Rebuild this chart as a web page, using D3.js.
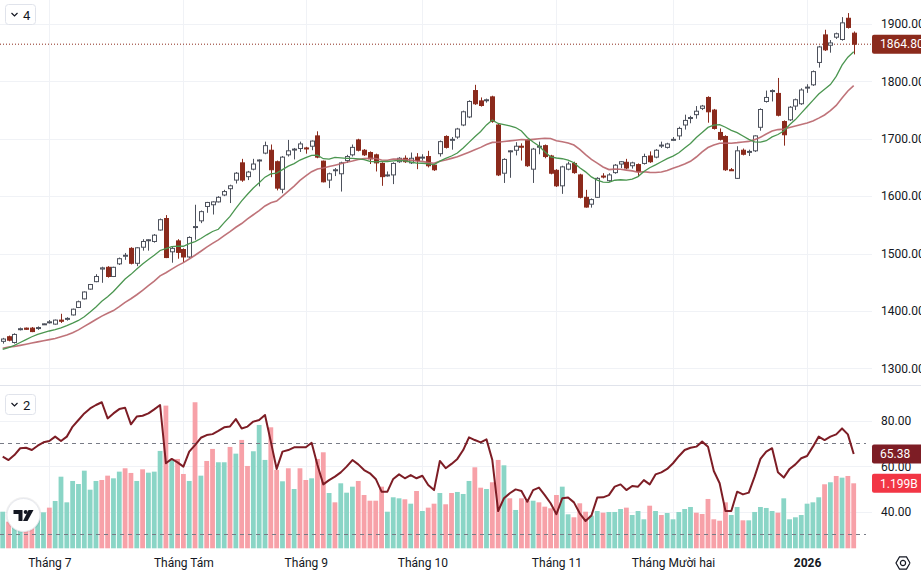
<!DOCTYPE html>
<html><head><meta charset="utf-8">
<script src="https://cdn.jsdelivr.net/npm/d3@7"></script>
<style>
body{margin:0;background:#fff;}
svg{display:block;font-family:Roboto,"Noto Sans",sans-serif;}
</style></head>
<body><svg id="c" width="921" height="572"></svg>
<script>
// ---------- DATA ----------
const opens = [
1347,1355,1345,1368,1370,1370,1370,1377,1380,1377,
1384,1386,1393,1406,1421,1438,1451,1473,1476,1460,
1482,1496,1509,1483,1511,1523,1521,1541,1561,1503,
1522,1507,1494,1546,1557,1582,1585,1590,1602,1613,
1628,1658,1634,1647,1662,1675,1680,1660,1612,1672,
1681,1683,1684,1687,1705,1661,1628,1645,1639,1662,
1672,1698,1680,1676,1672,1657,1636,1637,1660,1666,
1658,1668,1667,1669,1654,1674,1704,1698,1703,1724,
1738,1784,1766,1767,1773,1724,1640,1678,1680,1687,
1697,1647,1686,1688,1670,1645,1618,1647,1657,1637,
1598,1586,1598,1635,1627,1641,1656,1659,1653,1655,
1657,1670,1668,1688,1685,1698,1705,1724,1736,1742,
1753,1772,1750,1711,1704,1646,1631,1680,1677,1679,
1720,1765,1783,1779,1730,1733,1757,1761,1789,1794,
1833,1881,1863,1877,1873,1910,1884];
const highs = [
1353,1357,1361,1371,1371,1372,1373,1378,1384,1385,
1395,1389,1404,1418,1434,1447,1464,1477,1478,1477,
1493,1501,1511,1511,1525,1525,1534,1561,1567,1512,
1525,1509,1530,1585,1575,1590,1591,1600,1611,1620,
1642,1665,1644,1665,1664,1695,1690,1662,1670,1698,
1684,1695,1686,1697,1713,1662,1641,1649,1660,1672,
1690,1700,1682,1678,1674,1659,1643,1659,1668,1671,
1676,1675,1673,1679,1656,1697,1706,1703,1719,1749,
1767,1794,1772,1770,1775,1726,1666,1680,1694,1692,
1699,1684,1695,1690,1672,1647,1653,1660,1660,1639,
1611,1596,1633,1640,1640,1656,1661,1665,1660,1657,
1674,1678,1682,1695,1693,1703,1721,1742,1740,1757,
1759,1774,1752,1718,1706,1649,1687,1683,1681,1706,
1753,1784,1786,1806,1732,1757,1770,1788,1795,1819,
1862,1890,1872,1885,1912,1919,1887];
const lows = [
1343,1347,1343,1366,1367,1363,1367,1376,1378,1376,
1379,1383,1392,1405,1420,1437,1450,1449,1458,1459,
1480,1489,1481,1478,1505,1505,1519,1540,1492,1484,
1491,1485,1492,1524,1553,1571,1568,1589,1600,1588,
1622,1625,1628,1645,1617,1673,1633,1610,1605,1669,
1664,1677,1674,1680,1666,1624,1614,1635,1608,1658,
1669,1678,1670,1656,1643,1618,1634,1621,1658,1658,
1656,1647,1662,1650,1644,1669,1683,1681,1700,1722,
1736,1759,1756,1763,1728,1635,1623,1632,1671,1662,
1651,1623,1673,1666,1638,1616,1604,1645,1639,1596,
1580,1580,1597,1631,1625,1639,1649,1647,1648,1634,
1655,1658,1666,1684,1683,1696,1698,1716,1727,1735,
1750,1728,1716,1697,1644,1644,1630,1671,1670,1677,
1714,1763,1765,1739,1688,1731,1750,1759,1780,1792,
1824,1853,1850,1874,1871,1892,1847];
const closes = [
1351,1349,1359,1369,1368,1364,1371,1377.5,1381,1384,
1382,1387,1403,1416,1433,1446,1460,1475,1460,1476,
1491,1497,1483,1510,1521,1524,1532,1559,1493,1509,
1502,1494,1528,1547,1573,1589,1590,1598,1608,1618,
1640,1628,1642,1656,1663,1688,1646,1614,1668,1679,
1682,1691,1683,1696,1668,1625,1639,1646,1658,1669,
1685,1680,1672,1665,1658,1634,1637,1657,1666,1660,
1666,1662,1668,1653,1646,1695,1685,1699,1717,1747,
1765,1761,1758,1768,1730,1637,1664,1679,1687,1686,
1653,1682,1687,1669,1640,1618,1651,1656,1641,1598,
1581,1594,1631,1634,1637,1654,1660,1649,1658,1643,
1669,1660,1680,1689,1691,1699,1718,1732,1737,1748,
1757,1747,1718,1699,1646,1645,1679,1673,1678,1705,
1751,1772,1784,1741,1707,1755,1768,1785,1790,1817,
1860,1855,1867,1883,1902,1894,1864.8];
// moving averages (green = 10, brown = 20)
const ma10 = [
1333,1336,1340,1345,1350,1355,1359,1362,1365,1367.4,
1370.5,1374.3,1378.7,1383.4,1389.9,1398.1,1407,1416.7,1424.6,1433.8,
1444.7,1455.7,1463.7,1473.1,1481.9,1489.7,1496.9,1505.3,1508.6,1511.9,
1513,1512.7,1517.2,1520.9,1526.1,1532.6,1538.4,1542.3,1553.8,1564.7,
1578.5,1591.9,1603.3,1614.2,1623.2,1633.1,1638.7,1640.3,1646.3,1652.4,
1656.6,1662.9,1667,1671,1671.5,1665.2,1664.5,1667.7,1666.7,1665.7,
1666,1664.9,1663.8,1660.7,1659.7,1660.6,1660.4,1661.5,1662.3,1661.4,
1659.5,1657.7,1657.3,1656.1,1654.9,1661,1665.8,1670,1675.1,1683.8,
1693.7,1703.6,1712.6,1724.1,1732.5,1726.7,1724.6,1722.6,1719.6,1713.5,
1702.3,1694.4,1687.3,1677.4,1668.4,1666.5,1665.2,1662.9,1658.3,1649.5,
1642.3,1633.5,1627.9,1624.4,1624.1,1627.7,1628.6,1627.9,1629.6,1634.1,
1642.9,1649.5,1654.4,1659.9,1665.3,1669.8,1675.6,1683.9,1691.8,1702.3,
1711.1,1719.8,1723.6,1724.6,1720.1,1714.7,1710.8,1704.9,1699,1694.7,
1694.1,1696.6,1703.2,1707.4,1713.5,1724.5,1733.4,1744.6,1755.8,1767,
1777.9,1786.2,1794.5,1808.7,1828.2,1842.1,1851.8];
const ma20 = [
1335,1337,1338,1340,1342,1344,1346,1348,1350,1352,
1355,1358,1362,1367,1373,1379,1385,1391,1396,1400.6,
1407.6,1415,1421.2,1428.2,1435.9,1443.9,1451.9,1461,1466.6,1472.9,
1478.9,1484.2,1490.5,1497,1504,1511.2,1517.7,1523.8,1531.2,1538.3,
1545.8,1552.3,1560.3,1567.6,1574.7,1582.9,1588.6,1591.3,1600.1,1608.6,
1617.6,1627.4,1635.2,1642.6,1647.4,1649.2,1651.6,1654,1656.5,1659.1,
1661.3,1663.9,1665.4,1665.9,1665.6,1662.9,1662.5,1664.6,1664.5,1663.6,
1662.8,1661.3,1660.6,1658.4,1657.3,1660.8,1663.1,1665.8,1668.7,1672.6,
1676.6,1680.7,1685,1690.1,1693.7,1693.9,1695.2,1696.3,1697.4,1698.7,
1698,1699,1700,1700.8,1700.5,1696.6,1694.9,1692.8,1689,1681.5,
1672.3,1664,1657.6,1650.9,1646.3,1647.1,1646.9,1645.4,1644,1641.8,
1642.6,1641.5,1641.2,1642.2,1644.7,1648.8,1652.1,1655.9,1660.7,1668.2,
1677,1684.7,1689,1692.3,1692.7,1692.3,1693.2,1694.4,1695.4,1698.5,
1702.6,1708.2,1713.4,1716,1716.8,1719.6,1722.1,1724.8,1727.4,1730.9,
1736,1741.4,1748.9,1758.1,1770.9,1783.3,1792.6];
// volume in millions, and its colour flag (1 = up/teal, 0 = down/pink)
const volumes = [
675,491,430,369,399,461,553,664,750,873,
1321,848,1242,1186,1432,1081,1242,1260,1340,1291,
1414,1476,1390,1242,1457,1395,1414,1796,2632,1630,
1648,1371,1242,2694,1340,1611,1833,1587,1587,1870,
1746,1999,1519,1790,2275,1630,2232,1445,1236,1476,
1094,1476,1260,1291,1648,1771,1020,848,1199,1026,
1137,1242,983,878,878,1137,675,941,922,904,
823,1057,688,750,823,1020,812,1020,1039,1002,
1242,1494,1118,1094,1218,1630,1531,922,707,922,
878,878,848,768,738,983,1137,627,572,830,
675,601,688,657,670,670,725,750,614,688,
535,786,688,614,651,535,670,725,762,657,
633,910,535,509,848,614,762,516,516,670,
762,744,688,657,922,535,572,614,823,848,
941,1181,1218,1334,1303,1334,1199];
const volUp = [
1,0,1,1,0,0,1,1,0,1,
1,1,1,1,1,1,1,0,0,1,
1,0,0,1,0,1,1,1,0,1,
0,0,1,0,1,0,0,1,1,0,
1,0,0,1,1,1,0,0,1,0,
1,0,0,1,0,0,1,0,1,1,
1,0,0,0,0,0,1,1,1,0,
1,0,1,0,0,1,0,0,1,1,
1,0,0,1,0,0,1,0,1,0,
0,1,0,0,0,0,1,1,0,0,
0,1,1,0,1,1,1,0,1,1,
1,0,1,0,1,1,1,1,1,0,
0,0,0,0,0,1,1,0,1,1,
1,1,1,0,1,1,1,1,1,1,
1,0,1,0,1,0,0];
const rsi = [
64.2,62.7,64.9,67.9,68.1,67.1,69.0,70.5,71.1,73.0,
71.1,73.0,77.4,80.3,83.2,85.4,86.9,88.1,81.0,83.2,
85.1,85.7,78.4,81.8,82.2,83.2,85.0,86.9,61.3,63.2,
61.7,59.8,66.4,69.3,72.5,73.7,74.1,75.5,77.1,77.5,
80.7,76.6,77.4,79.6,80.3,82.5,70.8,58.8,66.4,67.1,
68.3,68.3,68.3,70.3,60.5,52.0,53.9,55.4,57.3,59.8,
62.7,60.8,58.3,56.9,54.4,48.8,48.8,54.4,56.4,54.7,
56.1,54.7,55.8,51.7,49.5,62.3,59.1,61.0,63.2,67.1,
72.7,71.5,70.5,71.8,62.7,40.3,45.9,48.1,49.8,49.1,
44.4,49.5,50.6,47.3,43.7,38.9,45.9,46.2,44.1,39.3,
35.9,38.3,46.2,46.3,47.3,51.0,52.0,49.5,51.3,51.0,
53.9,52.0,56.4,57.3,58.8,61.3,64.4,67.1,68.1,68.6,
70.8,68.6,57.9,52.5,40.3,40.3,48.8,47.6,48.4,55.4,
63.2,66.4,67.9,57.3,55.0,58.8,60.8,63.5,64.5,68.6,
73.0,71.5,73.0,74.0,76.6,74.0,65.38];
// axes
const monthIndex = [8,31,52,72,95,115,138];
const monthLabels = ["Tháng 7","Tháng Tám","Tháng 9","Tháng 10","Tháng 11","Tháng Mười hai","2026"];
const priceTicks = [1300,1400,1500,1600,1700,1800,1900];
const rsiTicks = [40,60,80];
const rsiBands = [70,30];
const lastVolumeLabel = "1.199B";

// ---------- LAYOUT ----------
const W = 921, H = 572, plotR = 872;
const paneTop = 0, paneSplit = 385.5, paneBottom = 548.5;
const n = closes.length;
const x = d3.scaleLinear().domain([0, n - 1]).range([2.7, 853.7]);
const y = d3.scaleLinear().domain([1300, 1900]).range([368.3, 24]);
const yR = d3.scaleLinear().domain([40, 80]).range([511.7, 420.7]);
const yV = d3.scaleLinear().domain([0, 1199]).range([548.3, 483.3]);

const C = {
  grid: "#f0f2f6", text: "#131722", up: "#4d515c", upFill: "#ffffff",
  down: "#8b2a1c", ma10: "#4b9650", ma20: "#b8646a", rsi: "#7d1d25",
  volUp: "#8ad5c6", volDn: "#f7a1a8", dash: "#787b86"
};

const svg = d3.select("#c");
const defs = svg.append("defs");
defs.append("clipPath").attr("id", "clipMain").append("rect")
  .attr("x", 0).attr("y", paneTop).attr("width", plotR).attr("height", paneSplit);
defs.append("clipPath").attr("id", "clipLow").append("rect")
  .attr("x", 0).attr("y", paneSplit + 0.5).attr("width", plotR).attr("height", paneBottom - paneSplit);

svg.append("rect").attr("width", W).attr("height", H).attr("fill", "#fff");

// grids
const grid = svg.append("g");
grid.selectAll(".hg").data(priceTicks).join("line")
  .attr("x1", 0).attr("x2", plotR).attr("y1", d => Math.round(y(d)) + 0.5).attr("y2", d => Math.round(y(d)) + 0.5)
  .attr("stroke", C.grid);
grid.selectAll(".rg").data(rsiTicks).join("line")
  .attr("x1", 0).attr("x2", plotR).attr("y1", d => Math.round(yR(d)) + 0.5).attr("y2", d => Math.round(yR(d)) + 0.5)
  .attr("stroke", C.grid);
grid.selectAll(".vg").data(monthIndex).join("line")
  .attr("x1", d => Math.round(x(d)) + 0.5).attr("x2", d => Math.round(x(d)) + 0.5)
  .attr("y1", 0).attr("y2", paneBottom).attr("stroke", C.grid);

// pane separator
svg.append("line").attr("x1", 0).attr("x2", W).attr("y1", paneSplit).attr("y2", paneSplit)
  .attr("stroke", "#e0e3eb");

// ---------- MAIN PANE ----------
const main = svg.append("g").attr("clip-path", "url(#clipMain)");
const idx = d3.range(n);

// last price dotted line
main.append("line").attr("x1", 0).attr("x2", plotR)
  .attr("y1", y(closes[n - 1])).attr("y2", y(closes[n - 1]))
  .attr("stroke", C.down).attr("stroke-width", 1).attr("stroke-dasharray", "1,2");

const candles = main.append("g");
const isUp = i => closes[i] >= opens[i];
candles.selectAll("line").data(idx).join("line")
  .attr("x1", i => Math.round(x(i)) + 0.5).attr("x2", i => Math.round(x(i)) + 0.5)
  .attr("y1", i => y(highs[i])).attr("y2", i => y(lows[i]))
  .attr("stroke", i => isUp(i) ? C.up : C.down).attr("stroke-width", 1);
candles.selectAll("rect").data(idx).join("rect")
  .attr("x", i => Math.round(x(i)) - 1.5)
  .attr("width", 4)
  .attr("y", i => y(Math.max(opens[i], closes[i])))
  .attr("height", i => Math.max(1, Math.abs(y(opens[i]) - y(closes[i]))))
  .attr("fill", i => isUp(i) ? C.upFill : C.down)
  .attr("stroke", i => isUp(i) ? C.up : C.down).attr("stroke-width", 1);

const lineGen = arr => d3.line().x(i => x(i)).y(i => y(arr[i]))(idx);
main.append("path").attr("d", lineGen(ma20)).attr("fill", "none")
  .attr("stroke", C.ma20).attr("stroke-width", 1.6).attr("opacity", 0.9);
main.append("path").attr("d", lineGen(ma10)).attr("fill", "none")
  .attr("stroke", C.ma10).attr("stroke-width", 1.3);

// ---------- LOWER PANE ----------
const low = svg.append("g").attr("clip-path", "url(#clipLow)");
low.selectAll("rect").data(idx).join("rect")
  .attr("x", i => x(i) - 2.4).attr("width", 4.8)
  .attr("y", i => yV(volumes[i])).attr("height", i => yV(0) - yV(volumes[i]))
  .attr("fill", i => volUp[i] ? C.volUp : C.volDn);
low.selectAll(".band").data(rsiBands).join("line")
  .attr("x1", 0).attr("x2", 866).attr("y1", d => Math.round(yR(d)) + 0.5).attr("y2", d => Math.round(yR(d)) + 0.5)
  .attr("stroke", C.dash).attr("stroke-dasharray", "4,4").attr("stroke-width", 1);
low.append("path").attr("d", d3.line().x(i => x(i)).y(i => yR(rsi[i]))(idx))
  .attr("fill", "none").attr("stroke", C.rsi).attr("stroke-width", 2).attr("stroke-linejoin", "round");

// ---------- AXES ----------
function styleAxis(g) {
  g.select(".domain").remove();
  g.selectAll("text").attr("fill", C.text).attr("font-size", 12)
    .attr("font-family", "Roboto, 'Noto Sans', sans-serif");
}
const axP = svg.append("g").attr("transform", `translate(${plotR},0)`)
  .call(d3.axisRight(y).tickValues(priceTicks).tickSize(0).tickPadding(9).tickFormat(d3.format(".2f")));
styleAxis(axP);
const axR = svg.append("g").attr("transform", `translate(${plotR},0)`)
  .call(d3.axisRight(yR).tickValues(rsiTicks).tickSize(0).tickPadding(9).tickFormat(d3.format(".2f")));
styleAxis(axR);
const axX = svg.append("g").attr("transform", `translate(0,${paneBottom})`)
  .call(d3.axisBottom(x).tickValues(monthIndex).tickSize(0).tickPadding(10).tickFormat((d, k) => monthLabels[k]));
styleAxis(axX);
axX.selectAll("text").filter((d, k) => monthLabels[k] === "2026").attr("font-weight", "bold");

// ---------- LABEL BOXES ----------
function tag(cy, txt, fill) {
  svg.append("rect").attr("x", plotR).attr("y", cy - 9.5).attr("width", W - plotR + 2).attr("height", 19)
    .attr("rx", 2).attr("fill", fill);
  svg.append("text").attr("x", plotR + 8).attr("y", cy).attr("dy", "0.35em")
    .attr("fill", "#fff").attr("font-size", 12).text(txt);
}
tag(y(closes[n - 1]), d3.format(".2f")(closes[n - 1]), C.down);
tag(yR(rsi[n - 1]), d3.format(".2f")(rsi[n - 1]), C.rsi);
tag(yV(volumes[n - 1]), lastVolumeLabel, "#f23645");

// ---------- BUTTONS / DECOR ----------
function paneButton(top, label) {
  const g = svg.append("g");
  g.append("rect").attr("x", 5.5).attr("y", top + 0.5).attr("width", 30).attr("height", 20).attr("rx", 3)
    .attr("fill", "#fff").attr("stroke", "#e0e3eb");
  g.append("path").attr("d", `M11.5,${top + 9} L14.5,${top + 12} L17.5,${top + 9}`)
    .attr("fill", "none").attr("stroke", C.text).attr("stroke-width", 1.2);
  g.append("text").attr("x", 23).attr("y", top + 11).attr("dy", "0.35em")
    .attr("font-size", 13).attr("fill", C.text).text(label);
}
paneButton(4, "4");
paneButton(394, "2");

// TradingView logo
const logo = svg.append("g").attr("transform", "translate(23.5,515)");
logo.append("circle").attr("r", 18).attr("fill", "#000").attr("opacity", 0.06);
logo.append("circle").attr("r", 16.5).attr("fill", "#fff").attr("stroke", "#e6e8ee");
logo.append("path").attr("d", "M-10,-5 H-1 V6 H-5 V-1 H-10 Z").attr("fill", C.text);
logo.append("circle").attr("cx", 2.2).attr("cy", -3).attr("r", 2).attr("fill", C.text);
logo.append("path").attr("d", "M5,-5 H10 L4,6 H-0.5 Z").attr("fill", C.text);

// settings icon
const gear = svg.append("g").attr("transform", "translate(903,563)");
gear.append("path").attr("d", d3.line()(d3.range(7).map(k => [7 * Math.cos(Math.PI / 3 * k), 7 * Math.sin(Math.PI / 3 * k)])))
  .attr("fill", "none").attr("stroke", C.text).attr("stroke-width", 1.2);
gear.append("circle").attr("r", 2.6).attr("fill", "none").attr("stroke", C.text).attr("stroke-width", 1.2);
</script>
</body></html>
